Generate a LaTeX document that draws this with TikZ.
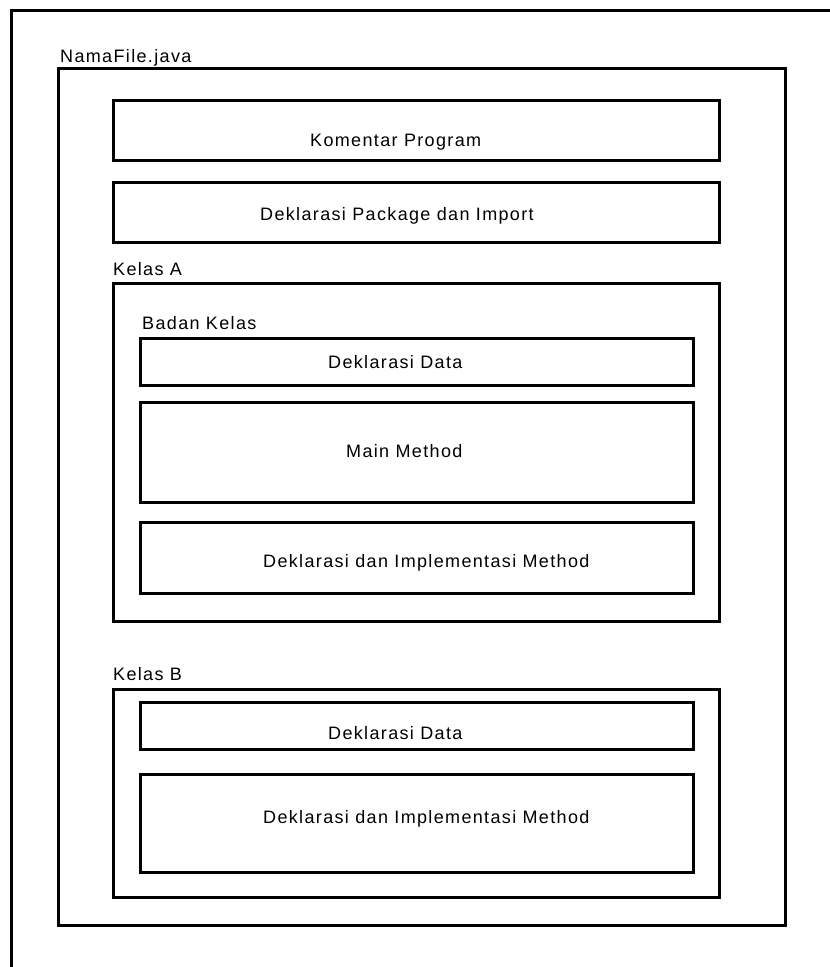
\documentclass[tikz,border=0pt]{standalone}
\usepackage{fontspec}
\setmainfont{Liberation Sans}[LetterSpace=7.5]
\usepackage{tikz}
\usetikzlibrary{positioning}

\begin{document}
\begin{tikzpicture}
[x=1pt,y=-1pt,line join=miter,
box/.style={draw=black,line width=3pt},
label text/.style={inner sep=0pt,anchor=base west,
  font=\fontsize{18}{21}\selectfont}]
% Page
\useasboundingbox[fill=white] (0,0) rectangle (830,967);
\draw[box] (11,967) -- (11,10) -- (830,10);
% The file
\node[label text] (file label) at (60,62) {NamaFile.java};
\draw[box] (58,68) rectangle (785,925);
\draw[box] (113,100) rectangle (719,160);
\node[label text] (comment) at (310,146) {Komentar Program};
\draw[box] (113,182) rectangle (719,242);
\node[label text] (package) at (260,220) {Deklarasi Package dan Import};
% Class A
\node[label text] (class a) at (113,275) {Kelas\ A};
\draw[box] (113,283) rectangle (719,621);
\node[label text] (body a) at (142,329) {Badan Kelas};
\draw[box] (140,338) rectangle (693,385);
\node[label text] (data a) at (328,368) {Deklarasi Data};
\draw[box] (140,402) rectangle (693,502);
\node[label text] (main a) at (346,457) {Main Method};
\draw[box] (140,522) rectangle (693,593);
\node[label text] (method a) at (263,567) {Deklarasi dan Implementasi Method};
% Class B
\node[label text] (class b) at (113,680) {Kelas\ B};
\draw[box] (113,689) rectangle (719,897);
\draw[box] (140,702) rectangle (693,749);
\node[label text] (data b) at (328,739) {Deklarasi Data};
\draw[box] (140,774) rectangle (693,872);
\node[label text] (method b) at (263,823) {Deklarasi dan Implementasi Method};
\end{tikzpicture}
\end{document}
